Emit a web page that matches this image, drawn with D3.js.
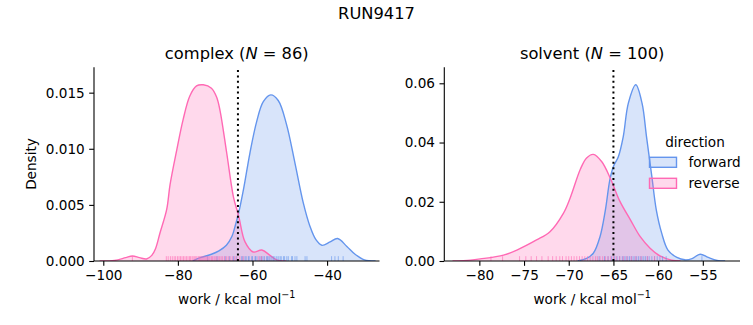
<!DOCTYPE html>
<html><head><meta charset="utf-8">
<script src="https://cdn.jsdelivr.net/npm/d3@7"></script>
<style>
body{margin:0;background:#fff;}
svg text{font-family:"DejaVu Sans",sans-serif;fill:#000;}
</style></head>
<body><svg id="c" width="753" height="325"></svg>
<script>
// ---------------- DATA ----------------
const suptitle = "RUN9417";
const directions = ["forward", "reverse"];
const colors = {forward: "#6495ED", reverse: "#FF69B4"};

// complex panel
const complexN = 86;
const complexDG = -63.9;
const complexXTicks = [-100, -80, -60, -40];
const complexYTicks = [0, 0.005, 0.010, 0.015];
const complexYTickLabels = ["0.000", "0.005", "0.010", "0.015"];
const complexFwdX = [-76, -74, -71, -69, -67, -65.5, -64.5, -63.7, -62.4, -60.7, -58.9, -57.1, -55.1, -53.1, -50.9, -48.6, -46.4, -44.6, -43.0, -41.4, -39.2, -37.2, -34.7, -32.5, -30, -27];
const complexFwdY = [0, 0.0003, 0.0006, 0.0009, 0.0014, 0.0022, 0.0033, 0.0043, 0.0064, 0.0096, 0.0124, 0.0142, 0.0148, 0.0143, 0.0122, 0.0087, 0.0052, 0.0031, 0.0019, 0.0014, 0.0017, 0.0020, 0.0013, 0.0006, 0.0001, 0];
const complexRevX = [-101, -97, -94, -92.2, -90.3, -88.4, -87.0, -86.0, -84.8, -83.0, -82.1, -80.3, -78.6, -76.8, -75.0, -73.2, -71.0, -69.6, -68.7, -66.9, -65.1, -63.7, -62.0, -59.8, -57.5, -55.3, -53.5, -51];
const complexRevY = [0, 0.00005, 0.0003, 0.00045, 0.0003, 0.00018, 0.0005, 0.0011, 0.0025, 0.0046, 0.0068, 0.0099, 0.0126, 0.0147, 0.0156, 0.0157, 0.0154, 0.0146, 0.0134, 0.0096, 0.0057, 0.0040, 0.0017, 0.0008, 0.00098, 0.0005, 0.0001, 0];
const complexFwdRug = [-72.0, -69.5, -67.3, -66.2, -65.1, -64.4, -62.9, -62.6, -62.0, -61.7, -61.1, -60.9, -60.2, -60.0, -59.3, -59.2, -58.8, -58.0, -57.6, -57.2, -56.8, -56.2, -56.0, -55.6, -55.3, -54.8, -54.4, -54.0, -53.5, -53.1, -52.6, -52.3, -51.7, -51.4, -50.8, -50.4, -49.5, -49.3, -48.6, -48.1, -45.9, -45.4, -38.8, -37.9, -37.0, -35.7];
const complexRevRug = [-92.2, -83.1, -82.6, -82.0, -81.5, -81.0, -80.6, -80.1, -79.7, -79.3, -78.9, -78.5, -78.1, -77.7, -77.3, -76.9, -76.6, -76.2, -75.9, -75.5, -75.2, -74.9, -74.5, -74.2, -73.9, -73.6, -73.3, -73.0, -72.7, -72.4, -72.1, -71.7, -71.4, -71.0, -70.7, -70.3, -70.0, -69.6, -69.2, -68.8, -68.4, -68.0, -67.5, -67.0, -66.5, -66.0, -65.4, -64.8, -64.2, -63.4, -62.5, -58.3, -57.6];

// solvent panel
const solventN = 100;
const solventDG = -65.0;
const solventXTicks = [-80, -75, -70, -65, -60, -55];
const solventYTicks = [0, 0.02, 0.04, 0.06];
const solventYTickLabels = ["0.00", "0.02", "0.04", "0.06"];
const solventFwdX = [-69, -68.0, -67.25, -66.5, -65.9, -65.4, -65.0, -64.45, -63.9, -63.33, -62.5, -61.8, -61.3, -60.7, -60.2, -59.6, -58.9, -57.9, -57.0, -56.2, -55.3, -54.4, -53.4, -52.5];
const solventFwdY = [0, 0.0009, 0.0026, 0.0082, 0.0172, 0.0274, 0.0319, 0.0352, 0.0420, 0.0533, 0.0595, 0.0533, 0.0420, 0.0285, 0.0172, 0.0094, 0.0037, 0.0012, 0.0004, 0.0008, 0.0023, 0.0012, 0.0002, 0];
const solventRevX = [-83, -81, -79.9, -77.3, -75.8, -73.6, -72.1, -70.6, -69.85, -68.7, -68.0, -67.25, -66.3, -65.3, -64.3, -63.1, -62.0, -60.9, -59.8, -58.5, -57.5];
const solventRevY = [0, 0.0003, 0.0007, 0.0020, 0.0037, 0.0071, 0.0099, 0.0161, 0.0212, 0.0310, 0.0348, 0.0360, 0.0335, 0.0276, 0.0203, 0.0139, 0.0082, 0.0043, 0.0017, 0.0003, 0];
const solventFwdRug = [-66.6, -66.0, -65.6, -65.2, -64.9, -64.6, -64.3, -64.0, -63.8, -63.6, -63.4, -63.2, -63.0, -62.8, -62.6, -62.4, -62.2, -62.0, -61.8, -61.6, -61.4, -61.2, -61.0, -60.7, -60.4, -60.1, -59.8, -59.5, -59.1, -55.1];
const solventRevRug = [-78.7, -77.4, -75.5, -74.8, -74.2, -73.6, -73.0, -72.3, -71.8, -71.4, -71.0, -70.7, -70.3, -70.0, -69.7, -69.4, -69.1, -68.8, -68.5, -68.2, -67.9, -67.6, -67.3, -67.0, -66.8, -66.5, -66.2, -65.9, -65.6, -65.3, -65.0, -64.7, -64.3, -63.9, -63.5, -63.0, -62.5, -61.9, -61.2, -60.4];

// ---------------- DRAW ----------------
const svg = d3.select("#c");
const FS = 13.6;

svg.append("text").attr("x", 376.5).attr("y", 19).attr("text-anchor", "middle")
  .style("font-size", "16.3px").text(suptitle);

function panel(cfg) {
  const x = d3.scaleLinear().domain(cfg.xdom).range([cfg.left, cfg.right]);
  const y = d3.scaleLinear().domain(cfg.ydom).range([cfg.bottom, cfg.top]);
  const g = svg.append("g");
  const curve = d3.curveCatmullRom.alpha(0.5);
  const area = d3.area().x(d => x(d[0])).y0(y(0)).y1(d => y(d[1])).curve(curve);
  const line = d3.line().x(d => x(d[0])).y(d => y(d[1])).curve(curve);
  const series = [
    {dir: "forward", pts: d3.zip(cfg.fwdX, cfg.fwdY), rug: cfg.fwdRug},
    {dir: "reverse", pts: d3.zip(cfg.revX, cfg.revY), rug: cfg.revRug}
  ];
  const clipId = "clip-" + cfg.name;
  svg.append("clipPath").attr("id", clipId).append("rect")
    .attr("x", cfg.left).attr("y", cfg.top - 5).attr("width", cfg.right - cfg.left).attr("height", cfg.bottom - cfg.top + 5);
  const gc = g.append("g").attr("clip-path", `url(#${clipId})`);
  series.forEach(s => {
    gc.append("path").datum(s.pts).attr("d", area)
      .attr("fill", colors[s.dir]).attr("fill-opacity", 0.25).attr("stroke", "none");
  });
  series.forEach(s => {
    gc.append("path").datum(s.pts).attr("d", line)
      .attr("fill", "none").attr("stroke", colors[s.dir]).attr("stroke-width", 1.4);
  });
  // rugs
  const rugH = (cfg.bottom - cfg.top) * 0.025;
  series.forEach(s => {
    g.selectAll(null).data(s.rug).enter().append("line")
      .attr("x1", d => x(d)).attr("x2", d => x(d))
      .attr("y1", y(0)).attr("y2", y(0) - rugH)
      .attr("stroke", colors[s.dir]).attr("stroke-width", 1).attr("stroke-opacity", 0.6);
  });
  // dotted line
  g.append("line").attr("x1", x(cfg.dg)).attr("x2", x(cfg.dg))
    .attr("y1", cfg.bottom).attr("y2", cfg.top)
    .attr("stroke", "#000").attr("stroke-width", 2).attr("stroke-dasharray", "2,3.4");

  // axes
  const xAxis = d3.axisBottom(x).tickValues(cfg.xticks).tickSize(4.8).tickPadding(4.5)
    .tickFormat(d => (d < 0 ? "\u2212" : "") + Math.abs(d));
  const gx = g.append("g").attr("transform", `translate(0,${cfg.bottom})`).call(xAxis);
  gx.select(".domain").attr("d", `M${cfg.left},0H${cfg.right}`);
  const yAxis = d3.axisLeft(y).tickValues(cfg.yticks).tickSize(4.8).tickPadding(4.5)
    .tickFormat((d, i) => cfg.ylabels[i]);
  const gy = g.append("g").attr("transform", `translate(${cfg.left},0)`).call(yAxis);
  gy.select(".domain").attr("d", `M0,${cfg.bottom}V${cfg.top}`);
  [gx, gy].forEach(a => {
    a.selectAll("text").style("font-size", FS + "px").style("font-family", "DejaVu Sans");
    a.selectAll("line, path").attr("stroke", "#000").attr("stroke-width", 1.1);
  });

  // title
  const cx = (cfg.left + cfg.right) / 2;
  const t = g.append("text").attr("x", cx).attr("y", 59).attr("text-anchor", "middle")
    .style("font-size", "16.3px");
  t.append("tspan").text(cfg.name + " (");
  t.append("tspan").style("font-style", "italic").text("N");
  t.append("tspan").text(" = " + cfg.n + ")");

  // x label
  const xl = g.append("text").attr("x", cx).attr("y", 303.5).attr("text-anchor", "middle")
    .style("font-size", FS + "px");
  xl.append("tspan").text("work / kcal mol");
  xl.append("tspan").attr("dy", -5.5).style("font-size", "9.6px").text("\u22121");
  return {x, y};
}

panel({name: "complex", n: complexN, left: 94, right: 379.5, top: 67.3, bottom: 261,
  xdom: [-102.49, -25.95], ydom: [0, 0.01726],
  fwdX: complexFwdX, fwdY: complexFwdY, revX: complexRevX, revY: complexRevY,
  fwdRug: complexFwdRug, revRug: complexRevRug, dg: complexDG,
  xticks: complexXTicks, yticks: complexYTicks, ylabels: complexYTickLabels});

panel({name: "solvent", n: solventN, left: 444.3, right: 740, top: 67.3, bottom: 261,
  xdom: [-83.92, -50.84], ydom: [0, 0.0654],
  fwdX: solventFwdX, fwdY: solventFwdY, revX: solventRevX, revY: solventRevY,
  fwdRug: solventFwdRug, revRug: solventRevRug, dg: solventDG,
  xticks: solventXTicks, yticks: solventYTicks, ylabels: solventYTickLabels});

// y label
svg.append("text").attr("transform", "translate(35.5,164) rotate(-90)")
  .attr("text-anchor", "middle").style("font-size", FS + "px").text("Density");

// legend
const lg = svg.append("g");
lg.append("text").attr("x", 695).attr("y", 146.5).attr("text-anchor", "middle")
  .style("font-size", FS + "px").text("direction");
directions.forEach((d, i) => {
  const yy = 157.3 + i * 21;
  lg.append("rect").attr("x", 649.5).attr("y", yy).attr("width", 27).attr("height", 10)
    .attr("fill", colors[d]).attr("fill-opacity", 0.25).attr("stroke", colors[d]).attr("stroke-width", 1.4);
  lg.append("text").attr("x", 688.5).attr("y", yy + 9.8).style("font-size", FS + "px").text(d);
});
</script></body></html>
